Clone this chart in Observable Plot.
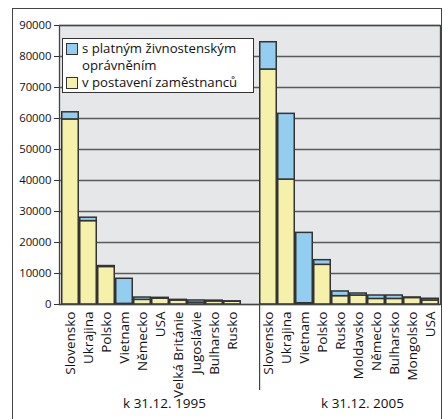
<!DOCTYPE html>
<html>
<head>
<meta charset="utf-8">
<script src="https://cdn.jsdelivr.net/npm/d3@7"></script>
<script src="https://cdn.jsdelivr.net/npm/@observablehq/plot@0.6"></script>
<style>
  html, body { margin: 0; padding: 0; background: #fff; }
  #wrap { position: relative; width: 443px; height: 419px; overflow: hidden; font-family: "Open Sans", sans-serif; }
  #outer { position: absolute; left: 12px; top: 8px; width: 430px; height: 430px; border: 1px solid #444; box-sizing: border-box; }
  #chart { position: absolute; left: 0; top: 0; }
  #legend { position: absolute; left: 62px; top: 38px; width: 192px; height: 55px; background: #fff; border: 1px solid #333; box-sizing: border-box; font-size: 13.2px; color: #111; line-height: 17px; padding-top: 1px; }
  .item { position: relative; padding-left: 19px; }
  .sw { position: absolute; left: 3px; top: 3px; width: 10px; height: 10px; border: 1px solid #333; }
</style>
</head>
<body>
<div id="wrap">
  <div id="outer"></div>
  <div id="chart"></div>
  <div id="legend"></div>
</div>
<script>
const seriesNames = ["s platným živnostenským oprávněním", "v postavení zaměstnanců"];
const seriesColors = ["#93cdef", "#f5f0aa"];

const groupLabels = ["k 31.12. 1995", "k 31.12. 2005"];

const cats1995 = ["Slovensko", "Ukrajina", "Polsko", "Vietnam", "Německo", "USA", "Velká Británie", "Jugoslávie", "Bulharsko", "Rusko"];
const emp1995 = [59700, 26900, 12100, 200, 1500, 1900, 1300, 600, 1000, 900];
const trade1995 = [2300, 1100, 300, 8100, 750, 250, 200, 700, 250, 100];

const cats2005 = ["Slovensko", "Ukrajina", "Vietnam", "Polsko", "Rusko", "Moldavsko", "Německo", "Bulharsko", "Mongolsko", "USA"];
const emp2005 = [75800, 40300, 400, 12800, 2700, 2900, 1800, 1800, 2100, 1300];
const trade2005 = [8800, 21200, 22700, 1500, 1500, 650, 1100, 1100, 150, 550];

const yTicks = [0, 10000, 20000, 30000, 40000, 50000, 60000, 70000, 80000, 90000];

// build table
const rows = [];
function addGroup(year, cats, emp, trade) {
  cats.forEach((c, i) => {
    const key = year + "|" + c;
    rows.push({key, series: seriesNames[1], value: emp[i]});
    rows.push({key, series: seriesNames[0], value: trade[i]});
  });
}
addGroup("1995", cats1995, emp1995, trade1995);
addGroup("2005", cats2005, emp2005, trade2005);

const xDomain = [...cats1995.map(c => "1995|" + c), "gap", ...cats2005.map(c => "2005|" + c)];

const groupText = [
  {key: "1995|" + cats1995[5], label: groupLabels[0]},
  {key: "2005|" + cats2005[5], label: groupLabels[1]}
];

const chart = Plot.plot({
  width: 443,
  height: 419,
  marginLeft: 59,
  marginRight: 3,
  marginTop: 25,
  marginBottom: 115,
  style: {fontFamily: "Open Sans, sans-serif", background: "transparent", color: "#111"},
  x: {domain: xDomain, padding: 0, label: null},
  y: {domain: [0, 90000], label: null},
  color: {domain: seriesNames, range: seriesColors},
  marks: [
    Plot.frame({fill: "#e6e7e9", stroke: "none"}),
    Plot.gridY(yTicks, {stroke: "#5a5a5a", strokeOpacity: 1, strokeWidth: 1.3}),
    Plot.barY(rows, Plot.stackY({x: "key", y: "value", fill: "series", stroke: "#333", strokeWidth: 1.5, insetLeft: 0.75, insetRight: 0.75})),
    Plot.frame({stroke: "#444", strokeWidth: 1.3}),
    Plot.axisY({ticks: yTicks, tickFormat: d => String(d), tickSize: 5, tickPadding: 3, fontSize: 11.3, stroke: "#333"}),
    Plot.axisX({tickFormat: d => d === "gap" ? "" : d.split("|")[1], tickSize: 0, tickPadding: 7, tickRotate: -90, fontSize: 13.5}),
    Plot.ruleX(["gap"], {x: d => d, dx: 9.1, insetTop: 279, insetBottom: -86, stroke: "#444", strokeWidth: 1.2}),
    Plot.text(groupText, {x: "key", text: "label", frameAnchor: "bottom", dy: 103, dx: 4, fontSize: 13.5, fill: "#111"})
  ]
});
document.getElementById("chart").appendChild(chart);

// legend
const legend = document.getElementById("legend");
[0, 1].forEach(i => {
  const div = document.createElement("div");
  div.className = "item";
  const sw = document.createElement("span");
  sw.className = "sw";
  sw.style.background = seriesColors[i];
  div.appendChild(sw);
  const t = document.createElement("span");
  t.textContent = seriesNames[i];
  div.appendChild(t);
  legend.appendChild(div);
});
</script>
</body>
</html>
